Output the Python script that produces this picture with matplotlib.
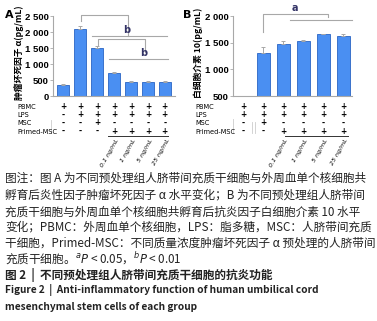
import matplotlib
matplotlib.use("Agg")
import matplotlib.pyplot as plt
import matplotlib.transforms as mtransforms
import numpy as np

plt.rcParams['font.family'] = ['Noto Sans CJK SC', 'DejaVu Sans']

# panel A: TNF-alpha
a_vals = [330, 2100, 1490, 730, 450, 440, 450]
a_err = [50, 100, 70, 20, 20, 40, 10]
a_signs = [
    ["+", "+", "+", "+", "+", "+", "+"],
    ["-", "+", "+", "+", "+", "+", "+"],
    ["-", "-", "+", "-", "-", "-", "-"],
    ["-", "-", "-", "+", "+", "+", "+"],
]
a_ticks = [0, 500, 1000, 1500, 2000, 2500]
a_ticklabels = ["0", "500", "1 000", "1 500", "2 000", "2 500"]

# panel B: IL-10 (first group below axis range)
b_vals = [300, 1310, 1475, 1540, 1665, 1630]
b_err = [0, 100, 60, 15, 5, 30]
b_signs = [
    ["+", "+", "+", "+", "+", "+"],
    ["+", "+", "+", "+", "+", "+"],
    ["-", "+", "-", "-", "-", "-"],
    ["-", "-", "+", "+", "+", "+"],
]
b_ticks = [500, 1000, 1500, 2000]
b_ticklabels = ["500", "1 000", "1 500", "2 000"]

row_names = ["PBMC", "LPS", "MSC", "Primed-MSC"]
doses = ["0.1 ng/mL", "1 ng/mL", "5 ng/mL", "25 ng/mL"]

caption = [
    "图注：图 A 为不同预处理组人脐带间充质干细胞与外周血单个核细胞共",
    "孵育后炎性因子肿瘤坏死因子 α 水平变化；B 为不同预处理组人脐带间",
    "充质干细胞与外周血单个核细胞共孵育后抗炎因子白细胞介素 10 水平",
    "变化；PBMC：外周血单个核细胞，LPS：脂多糖，MSC：人脐带间充质",
    "干细胞，Primed-MSC：不同质量浓度肿瘤坏死因子 α 预处理的人脐带间",
    r"充质干细胞。$^{a}$$\it{P}$ < 0.05，$^{b}$$\it{P}$ < 0.01",
]

W, H = 377, 321
BAR = "#4a8ff2"
EDGE = "#2a64c4"
GRAY = "#a8a8a8"

fig = plt.figure(figsize=(W / 100, H / 100), dpi=100)


def px(x, y):
    return x / W, 1 - y / H


def style_axes(ax, ticks, labels, ylim):
    ax.set_ylim(*ylim)
    ax.set_yticks(ticks)
    ax.set_yticklabels(labels, fontsize=6.8, fontweight="bold", family="Liberation Sans")
    ax.set_xticks([])
    for s in ["top", "right"]:
        ax.spines[s].set_visible(False)
    for s in ["left", "bottom"]:
        ax.spines[s].set_color(GRAY)
        ax.spines[s].set_linewidth(0.8)
    ax.tick_params(axis="y", length=2, width=0.6, color=GRAY, pad=1)


def bracket(ax, x0, x1, y, d0, d1):
    ax.plot([x0, x0, x1, x1], [d0, y, y, d1], color=GRAY, lw=0.8, clip_on=False)


def table(ax, signs, label_x, line_span):
    tr = mtransforms.blended_transform_factory(ax.transData, fig.transFigure)
    rows_y = [107, 115, 123, 131.5]
    for name, yy in zip(row_names, rows_y):
        fig.text(label_x / W, 1 - yy / H, name, fontsize=4.8, family="DejaVu Sans",
                 va="center", ha="left")
    for r, yy in enumerate(rows_y):
        for i, s in enumerate(signs[r]):
            ax.text(i, 1 - yy / H, s, transform=tr, fontsize=5.5, ha="center",
                    va="center", family="DejaVu Sans", fontweight="bold")
    ax.plot(line_span, [1 - 136 / H] * 2, transform=tr, color="#333333", lw=0.7,
            clip_on=False)
    n = len(signs[0])
    for k, d in enumerate(doses):
        i = n - 4 + k
        ax.text(i + 0.2, 1 - 139 / H, d, transform=tr, fontsize=4.5, rotation=60,
                rotation_mode="anchor", ha="right", va="center",
                family="DejaVu Sans", fontstyle="italic")


# panel A
axA = fig.add_axes([53 / W, 1 - 96 / H, 122 / W, 80 / H])
xa = np.arange(len(a_vals))
axA.bar(xa, a_vals, width=0.7, color=BAR, edgecolor=EDGE, linewidth=0.6,
        yerr=[np.zeros(len(a_err)), a_err], ecolor=GRAY, capsize=1.5,
        error_kw={"elinewidth": 0.7, "capthick": 0.7})
axA.set_xlim(-0.6, 6.6)
style_axes(axA, a_ticks, a_ticklabels, (0, 2500))
axA.set_ylabel("肿瘤坏死因子 α(pg/mL)", fontsize=6.3, fontweight="bold")
axA.yaxis.set_label_coords(-0.24, 0.54)
bracket(axA, 1.05, 3.8, 2520, 2340, 1890)
axA.plot([1.7, 6.1], [1880, 1880], color=GRAY, lw=0.8, clip_on=False)
axA.text(3.75, 1900, "b", fontsize=7, fontweight="bold", ha="center", va="bottom",
         color="#333366", family="DejaVu Sans")
bracket(axA, 2.05, 4.8, 1786, 1600, 1390)
axA.plot([2.7, 6.2], [1155, 1155], color=GRAY, lw=0.8, clip_on=False)
axA.text(4.75, 1175, "b", fontsize=7, fontweight="bold", ha="center", va="bottom",
         color="#333366", family="DejaVu Sans")
table(axA, a_signs, 17, [2.65, 6.2])
fig.lines.append(plt.Line2D([51 / W] * 2, [1 - 120 / H, 1 - 133 / H], color="#cccccc",
                            lw=0.6, transform=fig.transFigure))

# panel B
axB = fig.add_axes([233 / W, 1 - 96 / H, 119 / W, 80 / H])
xb = np.arange(len(b_vals))
axB.bar(xb, b_vals, width=0.65, color=BAR, edgecolor=EDGE, linewidth=0.6,
        yerr=[np.zeros(len(b_err)), b_err], ecolor=GRAY, capsize=1.5,
        error_kw={"elinewidth": 0.7, "capthick": 0.7})
axB.set_xlim(-0.5, 5.45)
style_axes(axB, b_ticks, b_ticklabels, (500, 2000))
axB.set_ylabel("白细胞介素 10(pg/mL)", fontsize=6.3, fontweight="bold")
axB.yaxis.set_label_coords(-0.25, 0.54)
bracket(axB, 1.0, 4.25, 2037, 1700, 1981)
axB.plot([2.35, 5.45], [1925, 1925], color=GRAY, lw=0.8, clip_on=False)
axB.text(2.6, 2060, "a", fontsize=7, fontweight="bold", ha="center", va="bottom",
         color="#333366", family="DejaVu Sans")
table(axB, b_signs, 195, [2.1, 5.25])
for xx, y0 in [(233, 119), (252, 122), (255, 122)]:
    fig.lines.append(plt.Line2D([xx / W] * 2, [1 - y0 / H, 1 - 133 / H], color="#cccccc",
                                lw=0.6, transform=fig.transFigure))

fig.text(*px(5, 15), "A", fontsize=8, fontweight="bold", ha="left", va="center",
         family="DejaVu Sans")
fig.text(*px(183, 15), "B", fontsize=8, fontweight="bold", ha="left", va="center",
         family="DejaVu Sans")

# caption
cap_y = [178, 195, 212, 227, 243, 259]
for line, yy in zip(caption, cap_y):
    fig.text(*px(5, yy), line, fontsize=8.4, ha="left", va="center", color="#222222")
fig.text(*px(5, 275), "图 2  |  不同预处理组人脐带间充质干细胞的抗炎功能", fontsize=8.4,
         fontweight="bold", ha="left", va="center", color="#222222")
fig.text(*px(5, 290), "Figure 2  |  Anti-inflammatory function of human umbilical cord",
         fontsize=7.3, fontweight="bold", ha="left", va="center", color="#222222")
fig.text(*px(5, 307), "mesenchymal stem cells of each group",
         fontsize=7.3, fontweight="bold", ha="left", va="center", color="#222222")

fig.savefig("out.png", dpi=100)
